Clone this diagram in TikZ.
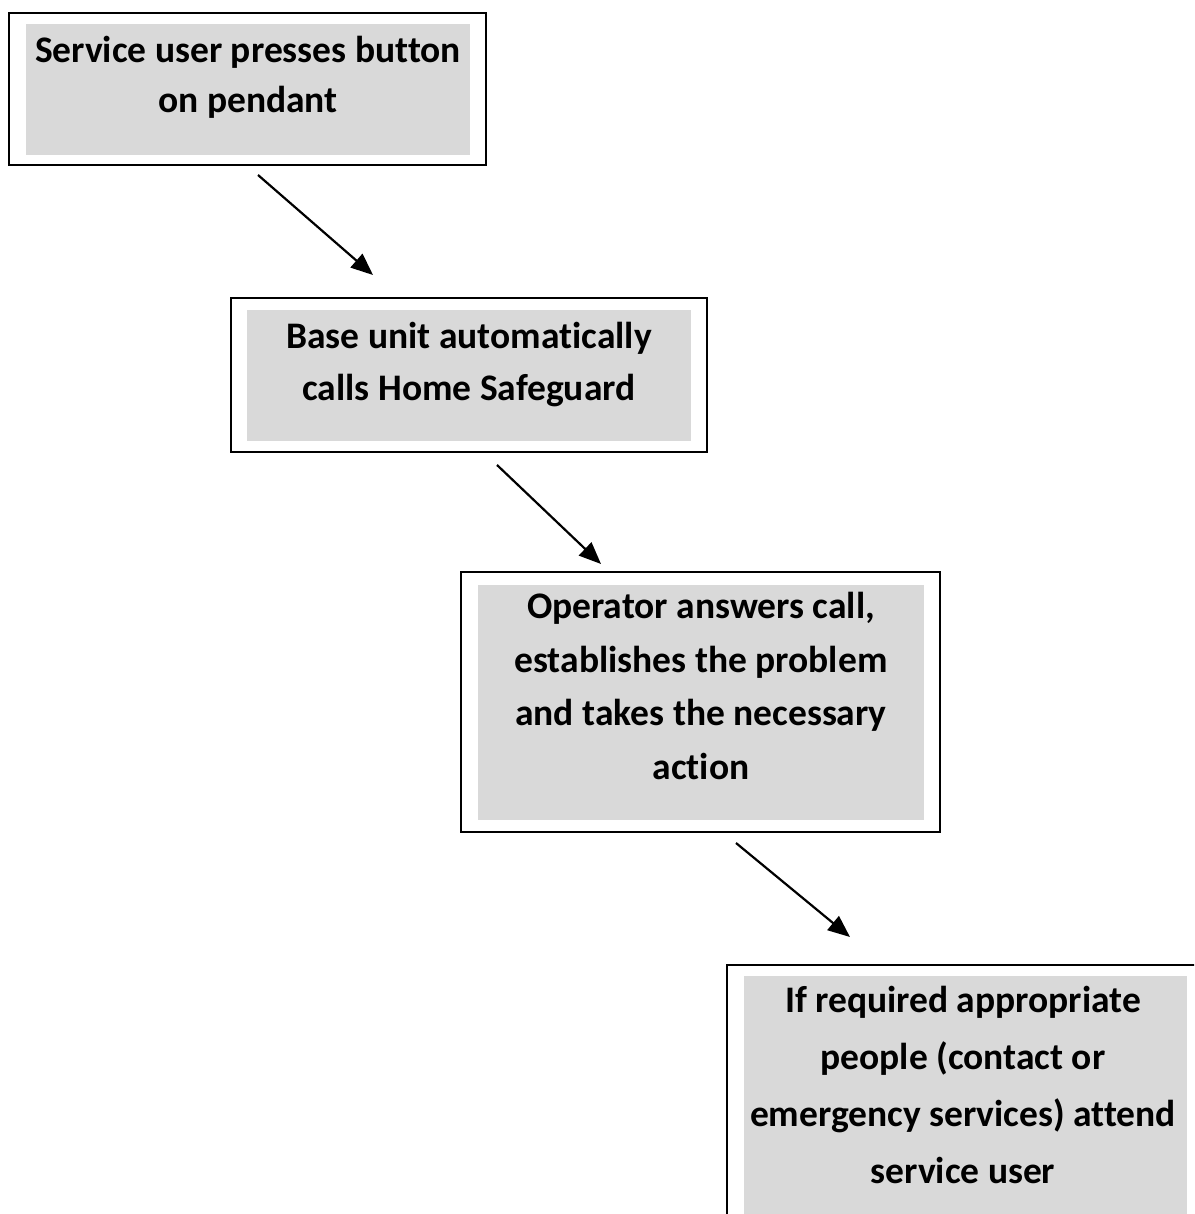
\documentclass[tikz,border=0pt]{standalone}
\usepackage{fontspec}
\setmainfont{Carlito}[Ligatures={NoCommon,NoContextual}]
\usetikzlibrary{arrows.meta}
\definecolor{panelgray}{HTML}{D9D9D9}
\tikzset{
  frame/.style={draw=black, line width=2pt, fill=white, inner sep=0pt},
  panel/.style={fill=panelgray, draw=none, inner sep=0pt},
  steptext/.style={align=center, inner sep=0pt, anchor=north,
    font=\fontsize{37.5}{#1}\selectfont\bfseries},
  flow/.style={line width=2.2pt, -{Triangle[length=22pt,width=18pt]}},
}
\begin{document}
\begin{tikzpicture}[x=1pt,y=-1pt]
\useasboundingbox (0,0) rectangle (1194,1214);
\fill[white] (0,0) rectangle (1194,1214);
\clip (0,0) rectangle (1194,1214);

% step 1
\node[frame, minimum width=477pt, minimum height=152pt] (f1) at (247.5,89) {};
\node[panel, minimum width=444pt, minimum height=131pt] (p1) at (248,89.5) {};
\node[steptext=50pt] (t1) at (248,36) {Service user presses button\\on pendant};

% step 2
\node[frame, minimum width=476pt, minimum height=154pt] (f2) at (469,375) {};
\node[panel, minimum width=444pt, minimum height=131pt] (p2) at (469,375.5) {};
\node[steptext=52pt] (t2) at (469,322) {Base unit automatically\\calls Home Safeguard};

% step 3
\node[frame, minimum width=479pt, minimum height=260pt] (f3) at (700.5,702) {};
\node[panel, minimum width=446pt, minimum height=235pt] (p3) at (701,702.5) {};
\node[steptext=53.5pt] (t3) at (701,592) {Operator answers call,\\establishes the problem\\and takes the necessary\\action};

% step 4 (runs off the page edge)
\node[frame, minimum width=475pt, minimum height=280pt] (f4) at (964.5,1105) {};
\node[panel, minimum width=443pt, minimum height=254pt] (p4) at (965.5,1103) {};
\node[steptext=57pt] (t4) at (963,986) {If required appropriate\\people (contact or\\emergency services) attend\\service user};

% connectors
\coordinate (a1s) at (258,175);
\coordinate (a1e) at (373,275);
\coordinate (a2s) at (497,465);
\coordinate (a2e) at (601,564);
\coordinate (a3s) at (736,843);
\coordinate (a3e) at (850,937);
\draw[flow] (a1s) -- (a1e);
\draw[flow] (a2s) -- (a2e);
\draw[flow] (a3s) -- (a3e);
\end{tikzpicture}
\end{document}
